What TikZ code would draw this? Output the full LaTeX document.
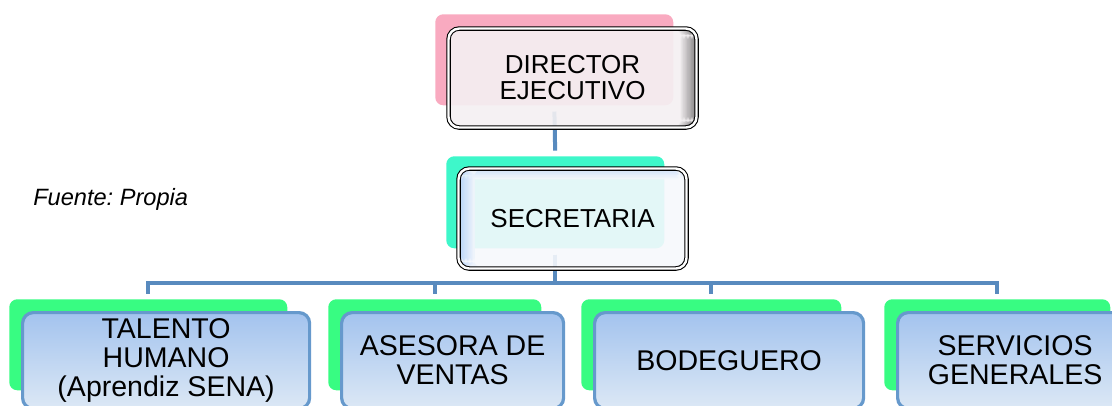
\documentclass[tikz,border=0pt]{standalone}
\usepackage{fontspec}
\setmainfont{Liberation Sans}

\definecolor{pinkback}{RGB}{249,170,192}
\definecolor{dirfill}{RGB}{244,240,242}
\definecolor{tealback}{RGB}{62,247,202}
\definecolor{secfill}{RGB}{246,248,252}
\definecolor{secglow}{RGB}{180,210,248}
\definecolor{greenback}{RGB}{56,252,130}
\definecolor{boxtop}{RGB}{163,195,238}
\definecolor{boxbot}{RGB}{220,232,245}
\definecolor{boxline}{RGB}{102,153,204}
\definecolor{connline}{RGB}{88,138,190}

\begin{document}
\begin{tikzpicture}[x=0.75pt,y=-0.75pt,
    backbox/.style={rectangle,rounded corners=6pt,inner sep=0pt,anchor=north west},
    topbox/.style={rectangle,rounded corners=8pt,inner sep=0pt,anchor=north west,align=center,
      draw=black,line width=0.8pt,double=white,double distance=1.8pt,fill opacity=0.9,text opacity=1,
      font=\fontsize{19.5}{19.5}\selectfont},
    dirshadow/.style={path picture={
      \foreach \k [evaluate=\k as \p using int(4*\k)] in {1,...,12}
        {\fill[black!\p!dirfill] ([xshift=\k*1pt-13pt]path picture bounding box.north east) rectangle ([xshift=\k*1pt-11.8pt]path picture bounding box.south east);}}},
    secglowing/.style={path picture={
      \foreach \k [evaluate=\k as \p using int(60-8*\k)] in {0,...,7}
        {\fill[secglow!\p!secfill] ([yshift=-\k*1pt]path picture bounding box.north west) rectangle ([yshift=-\k*1pt-1.2pt]path picture bounding box.north east);}
      \foreach \k [evaluate=\k as \p using int(100-8*\k)] in {0,...,11}
        {\fill[secglow!\p!secfill] ([xshift=\k*1pt]path picture bounding box.north west) rectangle ([xshift=\k*1pt+1.2pt]path picture bounding box.south west);}}},
    lowbox/.style={rectangle,rounded corners=8pt,inner sep=0pt,anchor=north west,align=center,
      draw=boxline,line width=2.4pt,top color=boxtop,bottom color=boxbot,
      font=\fontsize{21.4}{21.8}\selectfont},
    conn/.style={draw=connline,line width=3pt,shorten <=4.5pt,shorten >=4pt}]
  \useasboundingbox (0,0) rectangle (1112,406);
  \clip (0,0) rectangle (1112,406);
  % back boxes
  \node[backbox,fill=pinkback,minimum width=238*0.75pt,minimum height=91*0.75pt] (dirB) at (435,14) {};
  \node[backbox,fill=tealback,minimum width=218*0.75pt,minimum height=92*0.75pt] (secB) at (446,156) {};
  \def\areas{9/278/{TALENTO\\HUMANO\\(Aprendiz SENA)},328/213/{ASESORA DE\\VENTAS},581/260/{BODEGUERO},884/226/{SERVICIOS\\GENERALES}}
  \foreach \l/\w/\t [count=\i from 1] in \areas {\node[backbox,fill=greenback,minimum width=\w*0.75pt,minimum height=91*0.75pt] (b\i) at (\l,299) {};}
  % connectors
  \draw[conn] (dirB.south)--(secB.north);
  \foreach \i in {1,...,4} {\draw[conn] (secB.south)--++(0,34)-|(b\i.north);}
  % front boxes
  \node[topbox,fill=dirfill,dirshadow,minimum width=248*0.75pt,minimum height=99*0.75pt] (dir) at (448,28) {DIRECTOR\\EJECUTIVO};
  \node[topbox,fill=secfill,secglowing,minimum width=228*0.75pt,minimum height=100*0.75pt] (sec) at (458,168) {SECRETARIA};
  \foreach \l/\w/\t [count=\i from 1] in \areas {\node[lowbox,minimum width=\w*0.75pt+9*0.75pt,minimum height=96*0.75pt] (f\i) at (\l+12,311) {\t};}
  \node[anchor=base west,inner sep=0pt,font=\itshape\fontsize{17.7}{20}\selectfont] (src) at (33,205) {Fuente:\ Propia};
\end{tikzpicture}
\end{document}
